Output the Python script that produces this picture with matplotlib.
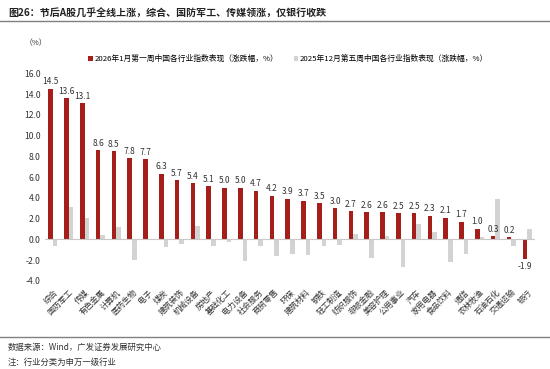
import numpy as np
import matplotlib.pyplot as plt

plt.rcParams['font.family'] = ['Noto Sans CJK SC', 'DejaVu Sans']
plt.rcParams['axes.unicode_minus'] = False

industries = ['综合', '国防军工', '传媒', '有色金属', '计算机', '医药生物', '电子', '煤炭',
              '建筑装饰', '机械设备', '房地产', '基础化工', '电力设备', '社会服务', '商贸零售',
              '环保', '建筑材料', '钢铁', '轻工制造', '纺织服饰', '非银金融', '美容护理',
              '公用事业', '汽车', '家用电器', '食品饮料', '通信', '农林牧渔', '石油石化',
              '交通运输', '银行']
week_2026_w1 = [14.5, 13.6, 13.1, 8.6, 8.5, 7.8, 7.7, 6.3, 5.7, 5.4, 5.1, 5.0, 5.0, 4.7, 4.2,
                3.9, 3.7, 3.5, 3.0, 2.7, 2.6, 2.6, 2.5, 2.5, 2.3, 2.1, 1.7, 1.0, 0.3, 0.2, -1.9]
week_2025_w5 = [-0.6, 3.1, 2.1, 0.4, 1.2, -2.0, -0.1, -0.7, -0.45, 1.3, -0.65, -0.2, -2.1, -0.65,
                -1.6, -1.4, -1.5, -0.6, -0.5, 0.5, -1.8, 0.3, -2.7, 1.5, 0.75, -2.2, -1.4,
                0.2, 3.9, -0.65, 1.0]
yticks = [16, 14, 12, 10, 8, 6, 4, 2, 0, -2, -4]

red = '#A61E1A'
grey = '#D3D3D3'

fig = plt.figure(figsize=(5.5, 3.69), dpi=100)
ax = fig.add_axes([45 / 550, 1 - 281 / 369, 490 / 550, (281 - 73.3) / 369])

x = np.arange(len(industries))
w = 0.29
ax.bar(x - w / 2, week_2026_w1, w, color=red, label='2026年1月第一周中国各行业指数表现（涨跌幅，%）')
ax.bar(x + w / 2, week_2025_w5, w, color=grey, label='2025年12月第五周中国各行业指数表现（涨跌幅，%）')

# data labels on the red series only
for xi, v in zip(x, week_2026_w1):
    if v >= 0:
        ax.text(xi - w / 2, v + 0.25, f'{v:.1f}', ha='center', va='bottom', fontsize=6, color='#333333')
    else:
        ax.text(xi - w / 2, v - 0.25, f'{v:.1f}', ha='center', va='top', fontsize=6, color='#333333')

ax.axhline(0, color='#C8C8C8', lw=0.8)
ax.set_xlim(-0.5, len(industries) - 0.5)
ax.set_ylim(-4, 16)
ax.set_yticks(yticks)
ax.set_yticklabels([f'{t:.1f}' for t in yticks], fontsize=6.2, color='#333333')
ax.set_xticks(x)
ax.set_xticklabels(industries, rotation=45, ha='right', rotation_mode='anchor', fontsize=5.8, color='#333333')
ax.tick_params(axis='both', length=0, pad=3)
ax.tick_params(axis='x', pad=5)
for s in ax.spines.values():
    s.set_visible(False)

ax.legend(loc='lower left', bbox_to_anchor=(40 / 490, 1.035), ncol=2, frameon=False, fontsize=5.6,
          handlelength=0.6, handleheight=0.6, handletextpad=0.2, columnspacing=2.0, borderaxespad=0)

fig.text(25 / 550, 1 - 43 / 369, '（%）', fontsize=5.6, color='#333333', va='center')
fig.text(8 / 550, 1 - 14 / 369, '图26：节后A股几乎全线上涨，综合、国防军工、传媒领涨，仅银行收跌',
         fontsize=7.2, fontweight='bold', va='center', color='#222222')
fig.add_artist(plt.Line2D([0, 1], [1 - 21 / 369] * 2, color='#808080', lw=1))
fig.add_artist(plt.Line2D([0, 1], [1 - 337 / 369] * 2, color='#808080', lw=1))
fig.text(8 / 550, 1 - 347 / 369, '数据来源：Wind，广发证券发展研究中心', fontsize=6, va='center', color='#333333')
fig.text(8 / 550, 1 - 362 / 369, '注：行业分类为申万一级行业', fontsize=6, va='center', color='#333333')

fig.savefig('out.png', dpi=100)
